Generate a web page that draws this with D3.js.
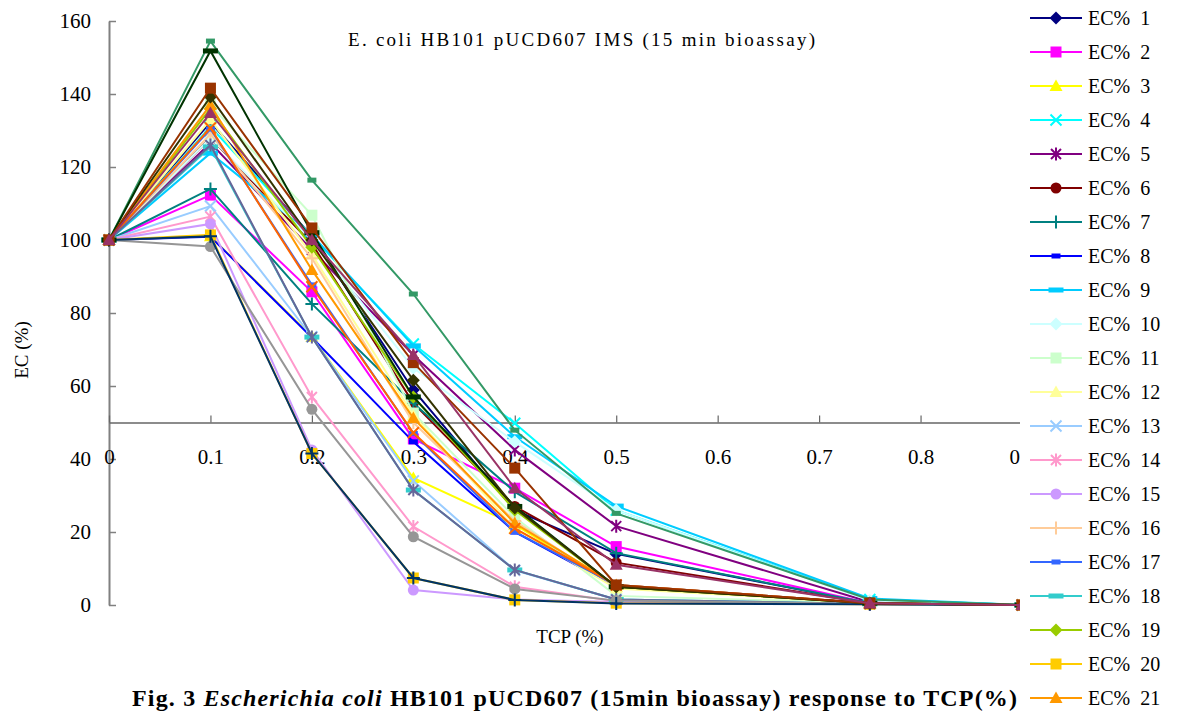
<!DOCTYPE html>
<html>
<head>
<meta charset="utf-8">
<script src="https://cdn.jsdelivr.net/npm/d3@7"></script>
<style>
  body { margin: 0; background: #fff; }
  svg { display: block; font-family: "Liberation Serif", "Times New Roman", serif; }
</style>
</head>
<body>
<script>
// TCP concentrations (x) and tick labels
const tcp = [0, 0.1, 0.2, 0.3, 0.4, 0.5, 0.75, 0.9];
const xTicks = [0, 0.1, 0.2, 0.3, 0.4, 0.5, 0.6, 0.7, 0.8, 0.9];
const yTicks = [0, 20, 40, 60, 80, 100, 120, 140, 160];

const seriesNames = ["EC% 1","EC% 2","EC% 3","EC% 4","EC% 5","EC% 6","EC% 7","EC% 8","EC% 9","EC% 10",
  "EC% 11","EC% 12","EC% 13","EC% 14","EC% 15","EC% 16","EC% 17","EC% 18","EC% 19","EC% 20",
  "EC% 21","EC% 22","EC% 23","EC% 24","EC% 25","EC% 26","EC% 27","EC% 28","EC% 29","EC% 30"];

// EC (%), one row per series, one value per TCP level
const ecValues = [
  [100, 132.3, 101.0, 58.9, 26.0, 14.0, 0.5, 0],
  [100, 112.3, 85.8, 45.5, 32.0, 16.0, 0.5, 0],
  [100, 101.0, 73.5, 34.8, 22.0, 5.0, 0.5, 0],
  [100, 131.0, 101.0, 71.5, 49.8, 26.0, 1.5, 0],
  [100, 126.6, 97.3, 68.5, 42.5, 21.6, 0.8, 0],
  [100, 128.0, 99.0, 55.3, 27.0, 11.6, 0.5, 0],
  [100, 114.0, 82.5, 55.3, 31.0, 14.2, 0.5, 0],
  [100, 100.9, 73.3, 44.7, 20.0, 5.0, 0.5, 0],
  [100, 123.8, 101.4, 71.0, 46.1, 27.1, 1.8, 0],
  [100, 128.0, 100.0, 64.9, 44.7, 26.0, 1.2, 0],
  [100, 137.0, 106.8, 52.6, 24.0, 2.5, 0.5, 0],
  [100, 133.0, 96.0, 52.0, 21.0, 4.5, 0.5, 0],
  [100, 109.3, 73.5, 34.0, 9.5, 1.5, 0.3, 0],
  [100, 106.4, 57.0, 21.5, 5.0, 1.0, 0.3, 0],
  [100, 104.4, 42.5, 4.1, 1.5, 0.8, 0.2, 0],
  [100, 129.0, 95.0, 50.0, 23.0, 5.0, 0.5, 0],
  [100, 130.4, 87.7, 47.0, 20.0, 5.5, 0.5, 0],
  [100, 125.5, 73.4, 31.5, 9.6, 1.5, 0.3, 0],
  [100, 136.0, 98.0, 57.0, 26.0, 5.0, 0.5, 0],
  [100, 101.4, 41.5, 7.4, 1.4, 0.5, 0.2, 0],
  [100, 137.0, 91.8, 51.2, 22.4, 5.5, 0.5, 0],
  [100, 130.7, 87.2, 47.2, 21.0, 5.5, 0.5, 0],
  [100, 126.0, 73.4, 31.5, 9.6, 1.5, 0.3, 0],
  [100, 98.2, 53.6, 18.7, 4.4, 1.2, 0.3, 0],
  [100, 101.0, 41.5, 7.4, 1.4, 0.4, 0.2, 0],
  [100, 154.5, 116.4, 85.2, 47.9, 25.1, 1.5, 0],
  [100, 151.8, 102.0, 57.0, 27.0, 5.0, 0.5, 0],
  [100, 139.2, 100.0, 61.6, 26.6, 5.0, 0.5, 0],
  [100, 141.6, 103.3, 66.4, 37.5, 5.5, 0.5, 0],
  [100, 134.8, 100.0, 68.5, 32.0, 11.0, 0.5, 0]
];

// old office palette + marker cycle
const palette = ["#000080","#FF00FF","#FFFF00","#00FFFF","#800080","#800000","#008080","#0000FF","#00CCFF","#CCFFFF",
  "#CCFFCC","#FFFF99","#99CCFF","#FF99CC","#CC99FF","#FFCC99","#3366FF","#33CCCC","#99CC00","#FFCC00",
  "#FF9900","#FF6600","#666699","#969696","#003366","#339966","#003300","#333300","#993300","#993366"];
const shapeCycle = ["diamond","square","triangle","x","star","circle","plus","dash","bar"];

const width = 1177, height = 711;

const svg = d3.select("body").append("svg")
  .attr("width", width)
  .attr("height", height)
  .attr("viewBox", `0 0 ${width} ${height}`);

const x = d3.scaleLinear().domain([0, 0.9]).range([109, 1022]);
const y = d3.scaleLinear().domain([0, 160]).range([605, 21]);

// y axis (ticks point into the plot)
const yAxis = svg.append("g")
  .attr("transform", `translate(${x(0)},0)`)
  .call(d3.axisLeft(y).tickValues(yTicks).tickSizeInner(-7).tickSizeOuter(0).tickPadding(18));
yAxis.select(".domain").attr("stroke", "#808080").attr("stroke-width", 2);
yAxis.selectAll(".tick line").attr("stroke", "#808080").attr("stroke-width", 1.5);
yAxis.selectAll(".tick text").attr("font-size", 21).attr("fill", "#000").attr("font-family", "Liberation Serif");

// x axis crosses at EC = 50
const xAxis = svg.append("g")
  .attr("transform", `translate(0,${y(50)})`)
  .call(d3.axisBottom(x).tickValues(xTicks).tickSizeInner(-7).tickSizeOuter(0).tickPadding(27)
    .tickFormat(d => d === 0 ? "0" : d3.format(".1f")(d)));
xAxis.select(".domain").attr("stroke", "#666").attr("stroke-width", 1.5);
xAxis.selectAll(".tick line").attr("stroke", "#666").attr("stroke-width", 1.2);
xAxis.selectAll(".tick text").attr("font-size", 21).attr("fill", "#000").attr("font-family", "Liberation Serif");

function markerPath(shape) {
  switch (shape) {
    case "diamond": return "M0,-6.5L6.5,0L0,6.5L-6.5,0Z";
    case "square": return "M-5.5,-5.5H5.5V5.5H-5.5Z";
    case "triangle": return "M0,-6.5L6.5,5L-6.5,5Z";
    case "x": return "M-5.5,-5.5L5.5,5.5M-5.5,5.5L5.5,-5.5";
    case "star": return "M-5,-5L5,5M-5,5L5,-5M0,-6.5V6.5";
    case "circle": return "M5.5,0A5.5,5.5 0 1,1 -5.5,0A5.5,5.5 0 1,1 5.5,0Z";
    case "plus": return "M-6.5,0H6.5M0,-6.5V6.5";
    case "dash": return "M-4.5,-2.5H4.5V2.5H-4.5Z";
    case "bar": return "M-7.5,-2.5H7.5V2.5H-7.5Z";
  }
}
const strokeOnly = s => s === "x" || s === "star" || s === "plus";

const series = seriesNames.map((name, i) => ({
  name,
  color: palette[i],
  shape: shapeCycle[i % shapeCycle.length],
  points: tcp.map((t, j) => ({ t, v: ecValues[i][j] }))
}));

const line = d3.line().x(d => x(d.t)).y(d => y(d.v));

const groups = svg.append("g").selectAll("g.series")
  .data(series)
  .join("g")
  .attr("class", "series");

groups.append("path")
  .attr("d", d => line(d.points))
  .attr("fill", "none")
  .attr("stroke", d => d.color)
  .attr("stroke-width", 2);

groups.each(function(s) {
  d3.select(this).selectAll("path.mk")
    .data(s.points)
    .join("path")
    .attr("class", "mk")
    .attr("transform", d => `translate(${x(d.t)},${y(d.v)})`)
    .attr("d", markerPath(s.shape))
    .attr("fill", strokeOnly(s.shape) ? "none" : s.color)
    .attr("stroke", strokeOnly(s.shape) ? s.color : "none")
    .attr("stroke-width", 2);
});

// legend on a white box, runs off the bottom of the page like the original
const legendTop = 18, legendStep = 34;
svg.append("rect")
  .attr("x", 1020).attr("y", 0)
  .attr("width", width - 1020).attr("height", height)
  .attr("fill", "#fff");

const legend = svg.append("g").selectAll("g")
  .data(series.filter((d, i) => legendTop + i * legendStep < height - 8))
  .join("g")
  .attr("transform", (d, i) => `translate(1030,${legendTop + i * legendStep})`);

legend.append("line")
  .attr("x1", 0).attr("x2", 52)
  .attr("stroke", d => d.color)
  .attr("stroke-width", 2);
legend.append("path")
  .attr("transform", "translate(26,0)")
  .attr("d", d => markerPath(d.shape))
  .attr("fill", d => strokeOnly(d.shape) ? "none" : d.color)
  .attr("stroke", d => strokeOnly(d.shape) ? d.color : "none")
  .attr("stroke-width", 2);
legend.append("text")
  .attr("x", 58).attr("y", 7)
  .attr("font-size", 20)
  .text(d => d.name.replace(" ", "\u00a0 "));

// titles
svg.append("text")
  .attr("x", 348).attr("y", 46)
  .attr("font-size", 19)
  .attr("textLength", 467)
  .attr("lengthAdjust", "spacing")
  .text("E. coli HB101 pUCD607 IMS (15 min bioassay)");

svg.append("text")
  .attr("transform", "translate(28,350) rotate(-90)")
  .attr("text-anchor", "middle")
  .attr("font-size", 19)
  .text("EC (%)");

svg.append("text")
  .attr("x", 570).attr("y", 643)
  .attr("text-anchor", "middle")
  .attr("font-size", 19)
  .text("TCP (%)");

// caption sits on the bottom edge, as in the source
const caption = svg.append("text")
  .attr("x", 132).attr("y", 706)
  .attr("font-size", 24)
  .attr("font-weight", "bold")
  .attr("textLength", 885)
  .attr("lengthAdjust", "spacing");
caption.append("tspan").text("Fig. 3 ");
caption.append("tspan").attr("font-style", "italic").text("Escherichia coli");
caption.append("tspan").text(" HB101 pUCD607 (15min bioassay) response to TCP(%)");
</script>
</body>
</html>
